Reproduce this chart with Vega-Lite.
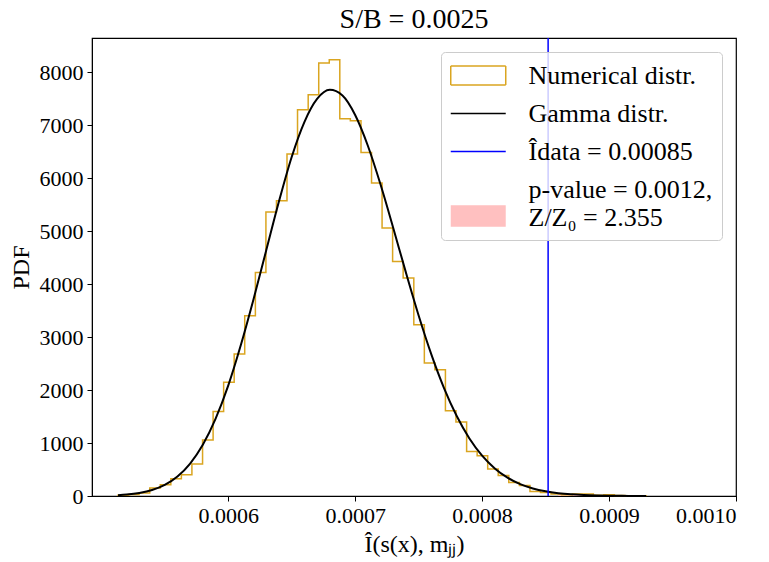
{
  "$schema": "https://vega.github.io/schema/vega-lite/v6.json",
  "width": 644,
  "height": 458,
  "autosize": {"type": "none"},
  "padding": {"left": 92, "top": 38, "right": 33, "bottom": 66},
  "background": "white",
  "title": {"text": "S/B = 0.0025", "font": "Liberation Serif", "fontSize": 28, "fontWeight": "normal", "color": "black", "offset": 3, "anchor": "middle"},
  "config": {
    "view": {"stroke": "black", "strokeWidth": 1.2},
    "axis": {
      "labelFont": "Liberation Serif", "labelFontSize": 22, "labelColor": "black",
      "titleFont": "Liberation Serif", "titleFontSize": 24, "titleFontWeight": "normal", "titleColor": "black",
      "tickColor": "black", "tickSize": 5, "tickWidth": 1, "domainColor": "black", "grid": false, "labelPadding": 4
    }
  },
  "datasets": {
    "hist": [
      {"i": 0, "x": 0.0005132, "pdf": 0},
      {"i": 1, "x": 0.0005132, "pdf": 12},
      {"i": 2, "x": 0.0005215, "pdf": 30},
      {"i": 3, "x": 0.0005298, "pdf": 55},
      {"i": 4, "x": 0.0005382, "pdf": 151},
      {"i": 5, "x": 0.0005465, "pdf": 213},
      {"i": 6, "x": 0.0005548, "pdf": 326},
      {"i": 7, "x": 0.0005631, "pdf": 402},
      {"i": 8, "x": 0.0005714, "pdf": 604},
      {"i": 9, "x": 0.0005798, "pdf": 1055},
      {"i": 10, "x": 0.0005881, "pdf": 1596},
      {"i": 11, "x": 0.0005964, "pdf": 2147},
      {"i": 12, "x": 0.0006047, "pdf": 2679},
      {"i": 13, "x": 0.000613, "pdf": 3402},
      {"i": 14, "x": 0.0006214, "pdf": 4219},
      {"i": 15, "x": 0.0006297, "pdf": 5358},
      {"i": 16, "x": 0.000638, "pdf": 5572},
      {"i": 17, "x": 0.0006463, "pdf": 6453},
      {"i": 18, "x": 0.0006546, "pdf": 7289},
      {"i": 19, "x": 0.000663, "pdf": 7572},
      {"i": 20, "x": 0.0006713, "pdf": 8170},
      {"i": 21, "x": 0.0006796, "pdf": 8232},
      {"i": 22, "x": 0.0006879, "pdf": 7119},
      {"i": 23, "x": 0.0006962, "pdf": 7081},
      {"i": 24, "x": 0.0007046, "pdf": 6483},
      {"i": 25, "x": 0.0007129, "pdf": 5906},
      {"i": 26, "x": 0.0007212, "pdf": 5057},
      {"i": 27, "x": 0.0007295, "pdf": 4426},
      {"i": 28, "x": 0.0007378, "pdf": 4113},
      {"i": 29, "x": 0.0007462, "pdf": 3232},
      {"i": 30, "x": 0.0007545, "pdf": 2509},
      {"i": 31, "x": 0.0007628, "pdf": 2383},
      {"i": 32, "x": 0.0007711, "pdf": 1609},
      {"i": 33, "x": 0.0007794, "pdf": 1396},
      {"i": 34, "x": 0.0007878, "pdf": 842},
      {"i": 35, "x": 0.0007961, "pdf": 760},
      {"i": 36, "x": 0.0008044, "pdf": 509},
      {"i": 37, "x": 0.0008127, "pdf": 389},
      {"i": 38, "x": 0.000821, "pdf": 257},
      {"i": 39, "x": 0.0008294, "pdf": 200},
      {"i": 40, "x": 0.0008377, "pdf": 87},
      {"i": 41, "x": 0.000846, "pdf": 68},
      {"i": 42, "x": 0.0008543, "pdf": 40},
      {"i": 43, "x": 0.0008626, "pdf": 25},
      {"i": 44, "x": 0.000871, "pdf": 38},
      {"i": 45, "x": 0.0008793, "pdf": 38},
      {"i": 46, "x": 0.0008876, "pdf": 12},
      {"i": 47, "x": 0.0008959, "pdf": 25},
      {"i": 48, "x": 0.0009042, "pdf": 8},
      {"i": 49, "x": 0.0009126, "pdf": 4},
      {"i": 50, "x": 0.0009209, "pdf": 4},
      {"i": 51, "x": 0.0009292, "pdf": 4},
      {"i": 52, "x": 0.0009292, "pdf": 0}
    ],
    "gamma": [
      {"x": 0.0005132, "pdf": 16},
      {"x": 0.00052, "pdf": 27},
      {"x": 0.00053, "pdf": 57},
      {"x": 0.00054, "pdf": 112},
      {"x": 0.00055, "pdf": 209},
      {"x": 0.00056, "pdf": 368},
      {"x": 0.00057, "pdf": 613},
      {"x": 0.00058, "pdf": 967},
      {"x": 0.00059, "pdf": 1456},
      {"x": 0.0006, "pdf": 2083},
      {"x": 0.00061, "pdf": 2853},
      {"x": 0.00062, "pdf": 3719},
      {"x": 0.00063, "pdf": 4641},
      {"x": 0.00064, "pdf": 5561},
      {"x": 0.00065, "pdf": 6398},
      {"x": 0.00066, "pdf": 7057},
      {"x": 0.00067, "pdf": 7493},
      {"x": 0.00068, "pdf": 7666},
      {"x": 0.00069, "pdf": 7558},
      {"x": 0.0007, "pdf": 7191},
      {"x": 0.00071, "pdf": 6611},
      {"x": 0.00072, "pdf": 5878},
      {"x": 0.00073, "pdf": 5059},
      {"x": 0.00074, "pdf": 4216},
      {"x": 0.00075, "pdf": 3408},
      {"x": 0.00076, "pdf": 2674},
      {"x": 0.00077, "pdf": 2038},
      {"x": 0.00078, "pdf": 1509},
      {"x": 0.00079, "pdf": 1086},
      {"x": 0.0008, "pdf": 761},
      {"x": 0.00081, "pdf": 520},
      {"x": 0.00082, "pdf": 345},
      {"x": 0.00083, "pdf": 224},
      {"x": 0.00084, "pdf": 142},
      {"x": 0.00085, "pdf": 88},
      {"x": 0.00086, "pdf": 53},
      {"x": 0.00087, "pdf": 31},
      {"x": 0.00088, "pdf": 18},
      {"x": 0.00089, "pdf": 10},
      {"x": 0.0009, "pdf": 5.5},
      {"x": 0.00091, "pdf": 3},
      {"x": 0.00092, "pdf": 1.6},
      {"x": 0.0009292, "pdf": 0.9}
    ],
    "obs": [{"x": 0.000852, "pdf": 0}]
  },
  "encoding": {
    "x": {"field": "x", "type": "quantitative", "scale": {"domain": [0.0004927, 0.001], "nice": false, "zero": false},
      "axis": {"values": [0.0006, 0.0007, 0.0008, 0.0009, 0.001], "format": ".4f", "title": "Î(s(x), mⱼⱼ)", "titlePadding": 6}},
    "y": {"field": "pdf", "type": "quantitative", "scale": {"domain": [0, 8644], "nice": false, "zero": true},
      "axis": {"values": [0, 1000, 2000, 3000, 4000, 5000, 6000, 7000, 8000], "format": "d", "title": "PDF", "titlePadding": 6}}
  },
  "layer": [
    {
      "data": {"name": "obs"},
      "transform": [{"filter": "datum.x < 0"}],
      "mark": {"type": "point", "filled": false, "strokeWidth": 1.5},
      "encoding": {
        "color": {"datum": "pv", "type": "nominal",
          "scale": {"domain": ["num", "gam", "dat", "pv"], "range": ["#DAA520", "#000000", "#0000ff", "#ffc0c0"]},
          "legend": {
            "orient": "top-right", "offset": 14, "title": null,
            "labelExpr": "datum.value === 'num' ? 'Numerical distr.' : datum.value === 'gam' ? 'Gamma distr.' : datum.value === 'dat' ? 'Îdata = 0.00085' : ['p-value = 0.0012,', 'Z/Z₀ = 2.355']",
            "labelFont": "Liberation Serif", "labelFontSize": 26, "labelColor": "black", "labelLimit": 400,
            "symbolSize": 756, "symbolStrokeWidth": 1.5, "symbolOpacity": 1, "labelOffset": 49.5, "padding": 9, "rowPadding": 10,
            "strokeColor": "#cccccc", "fillColor": "rgba(255,255,255,0.8)", "cornerRadius": 4
          }
        },
        "shape": {"datum": "pv", "type": "nominal",
          "scale": {"domain": ["num", "gam", "dat", "pv"], "range": [
            "M-1,-0.69H3M3,-0.69V0.69M3,0.69H-1M-1,0.69V-0.69",
            "M-1,0H3",
            "M-1,0H3",
            "M-1,1.2H3M-1,1.3H3M-1,1.4H3M-1,1.5H3M-1,1.6H3M-1,1.7H3M-1,1.8H3M-1,1.9H3M-1,2H3M-1,2.1H3M-1,2.2H3M-1,2.3H3M-1,2.4H3M-1,2.5H3M-1,2.6H3M-1,2.65H3"
          ]},
          "legend": {"orient": "top-right", "title": null}
        }
      }
    },
    {
      "data": {"name": "gamma"},
      "transform": [{"filter": "datum.x >= 0.000852"}],
      "mark": {"type": "area", "interpolate": "monotone"},
      "encoding": {
        "color": {"datum": "pv", "type": "nominal", "legend": null}
      }
    },
    {
      "data": {"name": "hist"},
      "mark": {"type": "line", "interpolate": "step-after", "strokeWidth": 1.5},
      "encoding": {
        "order": {"field": "i", "type": "quantitative"},
        "color": {"datum": "num", "type": "nominal", "legend": null}
      }
    },
    {
      "data": {"name": "gamma"},
      "mark": {"type": "line", "interpolate": "monotone", "strokeWidth": 2},
      "encoding": {
        "color": {"datum": "gam", "type": "nominal", "legend": null}
      }
    },
    {
      "data": {"name": "obs"},
      "mark": {"type": "rule", "strokeWidth": 1.5},
      "encoding": {
        "x": {"field": "x", "type": "quantitative"},
        "y": {"value": 0},
        "y2": {"value": 458},
        "color": {"datum": "dat", "type": "nominal", "legend": null}
      }
    }
  ]
}
